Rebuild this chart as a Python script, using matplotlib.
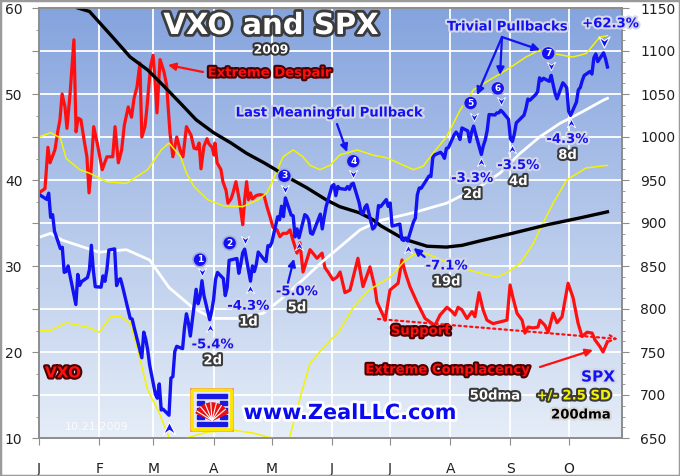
import matplotlib
matplotlib.use("Agg")
import matplotlib.pyplot as plt
import matplotlib.patheffects as pe
from matplotlib.path import Path
from matplotlib.patches import FancyBboxPatch, Rectangle, Wedge
from matplotlib.ticker import MultipleLocator, FuncFormatter, FixedLocator
from matplotlib.transforms import offset_copy
import numpy as np
import pandas as pd

W, H = 680, 476

# ---- data ----
HOLIDAYS = ["2009-01-19", "2009-02-16", "2009-04-10", "2009-05-25", "2009-07-03", "2009-09-07"]

# SPX daily closes, Jan 2 .. Oct 21 2009
spx = [
    931.8, 927.5, 934.7, 906.7, 909.7, 890.4, 870.3, 871.8, 842.6, 843.7,
    850.1, 805.2, 840.2, 827.5, 831.9, 836.6, 845.7, 874.1, 845.1, 825.9,
    825.4, 838.5, 832.2, 845.9, 868.6, 869.9, 827.2, 833.7, 835.2, 826.8,
    789.2, 788.4, 778.9, 770.1, 743.3, 773.1, 764.9, 752.8, 735.1,
    700.8, 696.3, 712.9, 682.6, 683.4, 676.5, 719.6, 721.4, 750.7, 756.6,
    753.9, 778.1, 794.4, 784.0, 768.5, 822.9, 806.1, 813.9, 832.9, 815.9,
    787.5, 797.9,
    811.1, 834.4, 842.5, 835.5, 815.6, 825.2, 856.6, 858.7, 841.5, 852.1,
    865.3, 869.6, 832.4, 850.1, 843.6, 851.9, 866.2, 857.5, 855.2, 873.6,
    872.8,
    877.5, 907.2, 903.8, 919.5, 907.4, 929.2, 909.2, 908.4, 883.9, 893.1,
    882.9, 909.7, 908.1, 903.5, 888.3, 887.0, 910.3, 893.1, 906.8, 919.1,
    942.9, 944.7, 931.8, 942.5, 940.1, 939.1, 942.4, 939.2, 944.9, 946.2,
    923.7, 912.0, 910.7, 918.4, 921.2, 893.0, 895.1, 900.9, 920.3, 918.9,
    927.2, 919.3,
    923.3, 896.4, 898.7, 881.0, 879.6, 882.7, 879.1, 901.1, 905.8, 932.7,
    940.7, 940.4, 951.1, 954.6, 954.1, 976.3, 979.3, 982.2, 979.6, 975.2,
    986.8, 987.5,
    1002.6, 1005.7, 1002.7, 997.1, 1010.5, 1007.1, 994.4, 1005.8, 1012.7, 1004.1,
    979.7, 989.7, 996.5, 1007.4, 1026.1, 1025.6, 1028.0, 1028.1, 1031.0, 1028.9,
    1020.6,
    998.0, 994.8, 1003.2, 1016.4, 1025.4, 1033.4, 1044.1, 1042.7, 1049.3, 1052.6,
    1068.8, 1065.5, 1068.3, 1064.7, 1071.7, 1060.9, 1050.8, 1044.4, 1063.0, 1060.6,
    1057.1,
    1029.9, 1025.2, 1040.5, 1054.7, 1057.6, 1065.5, 1071.5, 1076.2, 1073.2, 1092.0,
    1096.6, 1087.7, 1097.9, 1091.1, 1081.4,
]

# VXO, sampled by day of year (Jan 1 = 0)
vxo_day = [
    0, 3.1, 4.6, 5.7, 8.2, 9.8, 10.8, 11.9, 13.4, 14.4,
    16, 18, 19.1, 20.1, 21.6, 23.2, 24.7, 25.8, 26.8, 28.2,
    30, 32.6, 35, 38, 39.2, 40.9, 42.6, 44, 46, 47.7,
    49, 50.5, 52, 53, 54.6, 55.5, 57.5, 58.8, 59.8, 60.8,
    62.4, 64.4, 65.8, 67.5, 69, 71, 72.7, 74.2, 76, 78.4,
    79.9, 81.4, 82.5, 83.5, 85, 86.6, 87.6, 89.2, 90.2, 90.7,
    91.8, 93.8, 94.8, 96.4, 97.4, 99, 100, 101.5, 103, 104,
    105, 106, 107, 108, 109, 110, 112, 114, 116, 117.5,
    119.1, 120.6, 122.7, 124.2, 125.8, 127.8, 129.4, 130.9, 133, 134.5,
    136.1, 139.7, 143.3, 145.9, 147.4, 149, 151.5, 153.6, 155.2, 157.7,
    160.3, 164.4, 167, 170.6, 173.2, 174.2, 177.3, 178.4, 180.9, 185.1,
    187.1, 188.7, 191.2, 194.8, 199, 201.5, 204.1, 206.7, 210.3, 212.9,
    214.4, 216, 218, 220.6, 223.2, 224.7, 226.8, 228.9, 230.9, 234,
    237.6, 241.2, 242.8, 244.3, 246.4, 249, 250.5, 252.1, 254.6, 257.2,
    258.2, 260.8, 262.4, 265, 267, 269.6, 272.7, 275.3, 277.8, 279.9,
    282.5, 285.1, 286.6, 289.2, 290.7, 293,
]
vxo = [
    38.5, 39.0, 43.8, 42.0, 43.5, 45.8, 47.0, 50.0, 48.5, 46.0,
    50.0, 56.3, 45.6, 47.2, 47.0, 44.7, 42.7, 38.5, 41.0, 46.2,
    44.3, 41.2, 42.7, 42.7, 46.2, 42.0, 43.5, 46.4, 48.5, 47.3,
    49.5, 50.8, 53.6, 45.0, 46.2, 48.1, 53.2, 54.5, 51.6, 47.8,
    54.0, 52.6, 51.0, 45.5, 42.7, 45.0, 43.5, 42.7, 46.2, 45.2,
    43.7, 43.6, 44.3, 41.3, 43.9, 44.8, 44.2, 43.8, 42.9, 44.3,
    42.0, 41.2, 39.8, 38.8, 37.3, 37.8, 38.5, 39.8, 38.0, 36.5,
    34.8, 37.7, 39.8, 37.7, 38.5, 37.8, 38.2, 38.3, 38.2, 36.9,
    35.7, 34.5, 34.2, 33.4, 33.8, 33.8, 34.2, 33.0, 31.5, 32.7,
    29.3, 31.9, 30.9, 31.5, 29.8, 29.3, 28.4, 28.7, 29.3, 26.9,
    27.2, 30.9, 27.6, 29.9, 27.4, 25.8, 24.3, 23.7, 27.2, 28.0,
    30.7, 29.3, 27.6, 25.8, 23.9, 23.5, 23.1, 24.3, 25.2, 24.7,
    24.3, 25.2, 24.9, 23.9, 24.7, 24.1, 26.9, 24.9, 23.7, 23.3,
    23.5, 23.7, 27.8, 26.3, 24.5, 23.7, 22.2, 22.9, 22.8, 22.9,
    23.7, 23.1, 22.3, 24.5, 23.4, 24.1, 28.0, 26.3, 23.4, 21.8,
    22.3, 22.2, 21.4, 20.6, 20.0, 21.2,
]

# SPX 50-day moving average
ma50_day = [1, 6, 12, 31, 45, 57, 67, 79, 84.5, 90, 102, 115.5, 124, 136, 146,
            155, 165.5, 176, 193, 210, 227, 237.6, 248, 258, 268.6, 279, 291, 293]
ma50 = [884, 888, 880, 866, 869, 857, 825, 802, 795, 789, 789, 795, 810, 834, 855,
        872, 892, 903, 912, 923, 942, 958, 981, 1000, 1016, 1028, 1043, 1045]

# SPX 200-day moving average
ma200_day = [14, 20, 26, 38, 47, 56, 64, 73, 81, 90, 99, 107, 116, 122, 126, 138, 148,
             155, 165, 172, 176, 186, 190, 200, 210, 218, 227, 244, 262, 279, 293]
ma200 = [1158, 1150, 1146, 1116, 1093, 1078, 1060, 1039, 1020, 1005, 993, 981, 970,
         962, 956, 941, 927, 919, 912, 904, 897, 884, 880, 873, 872, 874, 879, 888,
         898, 906, 913]

# 50dma +/- 2.5 standard deviations
band_hi_day = [0, 6, 11, 14, 21, 26, 35, 45, 56, 63, 67, 73, 76, 80, 87, 95, 105, 113,
               117.5, 120.6, 125.8, 131, 136, 139.7, 144.8, 150, 155, 164, 172, 179,
               193, 198, 203, 210, 217, 224, 232, 241, 251, 258, 265, 275, 282, 289, 293]
band_hi = [1000, 1005, 999, 975, 962, 958, 948, 946, 962, 985, 993, 977, 958, 942, 927,
           920, 919, 927, 935, 950, 977, 985, 977, 967, 962, 967, 979, 985, 979, 976,
           962, 966, 981, 1000, 1031, 1055, 1066, 1078, 1093, 1101, 1097, 1093, 1097,
           1116, 1118]
band_lo_day = [0, 6, 14, 25, 31, 37, 42, 47, 50.5, 56, 62, 67.5, 70, 73, 76, 87, 100,
               110, 118, 124, 129, 134.5, 139.7, 148.5, 155, 162, 170, 181, 188, 193,
               199, 210, 222, 236, 241, 248, 255, 258, 265, 272, 282, 293]
band_lo = [775, 775, 784, 779, 773, 791, 791, 784, 756, 706, 679, 648, 640, 641, 650,
           657, 659, 656, 651, 649, 649, 696, 737, 760, 775, 802, 822, 837, 855, 863,
           865, 855, 845, 837, 842, 853, 877, 892, 923, 950, 964, 967]

month_starts = [0, 31, 59, 90, 120, 151, 181, 212, 243, 273]
month_labels = ["J", "F", "M", "A", "M", "J", "J", "A", "S", "O"]

# numbered pullbacks: peak date, trough date, size, length
pb_peak = ["2009-03-26", "2009-04-17", "2009-05-08", "2009-06-12",
           "2009-08-13", "2009-08-27", "2009-09-22"]
pb_trough = ["2009-03-30", "2009-04-20", "2009-05-15", "2009-07-10",
             "2009-08-17", "2009-09-02", "2009-10-02"]
pb_pct = ["-5.4%", "-4.3%", "-5.0%", "-7.1%", "-3.3%", "-3.5%", "-4.3%"]
pb_len = ["2d", "1d", "5d", "19d", "2d", "4d", "8d"]
low_date, high_date, gain_label = "2009-03-09", "2009-10-19", "+62.3%"

# ---- styling ----
BLUE = "#1212f2"
RED = "#ff1010"
YELLOW = "#f4f400"
GRAY = "#8c8c8c"

# label offsets in pixels (layout only)
LBL_DX = [3, -2, -2, 39, -9, 6, -3]
LBL_DY = [-25, -25, -54, -25, -24, -24, -24]
CIRC_DX = [-2, -15, -1, 0, -3, -3, -3]
CIRC_DY = [21, 6, 22, 22, 23, 22, 22]


def stroke(edge, lw=3):
    return [pe.withStroke(linewidth=lw, foreground=edge)]


days = pd.bdate_range("2009-01-02", "2009-10-21")
days = days[~days.isin(pd.to_datetime(HOLIDAYS))]
n = min(len(days), len(spx))
spx_x = (days.dayofyear.values - 1)[:n]
spx_v = np.array(spx[:n])
idx = {d: i for i, d in enumerate(days.strftime("%Y-%m-%d")[:n])}

fig = plt.figure(figsize=(W / 100, H / 100), dpi=100)
fig.patch.set_facecolor("white")
ax = fig.add_axes([39 / W, (H - 438) / H, 583 / W, 430 / H])
ax2 = ax.twinx()

# background gradient
grad = np.linspace(0, 1, 256)[:, None, None]
top = np.array([0.52, 0.64, 0.87])
bot = np.array([0.90, 0.93, 0.97])
ax.imshow(top + (bot - top) * grad, extent=(0, 300.5, 10, 60), aspect="auto",
          origin="upper", zorder=0)

ax.set_xlim(0, 300.5)
ax.set_ylim(10, 60)
ax2.set_ylim(650, 1150)
ax.set_axisbelow(True)

ax.xaxis.set_major_locator(FixedLocator(month_starts))
ax.set_xticklabels(month_labels)
ax.yaxis.set_major_locator(MultipleLocator(5))
ax.yaxis.set_minor_locator(MultipleLocator(2.5))
ax.yaxis.set_major_formatter(FuncFormatter(lambda v, _: f"{v:.0f}" if v % 10 == 0 else ""))
ax2.yaxis.set_major_locator(MultipleLocator(50))
ax2.yaxis.set_minor_locator(MultipleLocator(12.5))
ax.grid(True, which="major", color="white", lw=1.3)

for a in (ax, ax2):
    for s in a.spines.values():
        s.set_color(GRAY)
        s.set_linewidth(1.2)
    a.tick_params(which="both", color=GRAY, labelsize=10, labelcolor="#202020")
    a.tick_params(which="major", length=5)
    a.tick_params(which="minor", length=2.5)
ax.tick_params(axis="y", pad=7)
ax.tick_params(axis="x", pad=12)
ax2.tick_params(axis="y", pad=8)

# ---- series ----
ax.plot(vxo_day[:len(vxo)], vxo[:len(vxo_day)], color=RED, lw=2.3, zorder=3)
ax2.plot(band_lo_day, band_lo, color=YELLOW, lw=1.1)
ax2.plot(band_hi_day, band_hi, color=YELLOW, lw=1.1)
ax2.plot(ma50_day, ma50, color="white", lw=2.0)
ax2.plot(ma200_day, ma200, color="black", lw=2.4)
ax2.plot(spx_x, spx_v, color=BLUE, lw=2.4)

# ---- pullback markers ----
chev_down = Path([(-1, 1), (0, -1), (1, 1), (0, 0.3), (-1, 1)],
                 [Path.MOVETO, Path.LINETO, Path.LINETO, Path.LINETO, Path.CLOSEPOLY])
chev_up = Path([(-1, -1), (0, 1), (1, -1), (0, -0.3), (-1, -1)],
               [Path.MOVETO, Path.LINETO, Path.LINETO, Path.LINETO, Path.CLOSEPOLY])

pk = [idx[d] for d in pb_peak]
tr = [idx[d] for d in pb_trough]
ax2.plot(spx_x[pk], spx_v[pk], ls="none", marker=chev_down, ms=6, mfc=BLUE,
         mec="white", mew=0.6, transform=offset_copy(ax2.transData, fig, y=9, units="dots"))
ax2.plot(spx_x[tr], spx_v[tr], ls="none", marker=chev_up, ms=6, mfc=BLUE,
         mec="white", mew=0.6, transform=offset_copy(ax2.transData, fig, y=-8, units="dots"))
lo, hi = idx[low_date], idx[high_date]
ax2.plot(spx_x[lo], spx_v[lo], ls="none", marker=chev_up, ms=9, mfc=BLUE,
         mec="white", mew=0.8, transform=offset_copy(ax2.transData, fig, y=-13, units="dots"))
ax2.plot(spx_x[hi], spx_v[hi], ls="none", marker=chev_down, ms=8, mfc=BLUE,
         mec="white", mew=0.8, transform=offset_copy(ax2.transData, fig, y=11, units="dots"))


def disp(i):
    return ax2.transData.transform((spx_x[i], spx_v[i]))


def ftext(x, y, s, **kw):
    ax2.annotate(s, (x, y), xycoords="figure pixels", ha="center", va="center",
                 annotation_clip=False, **kw)


def farrow(x0, y0, x1, y1, color, ls="-"):
    ax2.annotate("", xy=(x1, y1), xytext=(x0, y0), xycoords="figure pixels",
                 annotation_clip=False,
                 arrowprops=dict(arrowstyle="-|>", color=color, lw=1.6, ls=ls,
                                 mutation_scale=11, shrinkA=0, shrinkB=0))


for k in range(len(pk)):
    px, py = disp(pk[k])
    ftext(px + CIRC_DX[k], py + CIRC_DY[k], str(k + 1), fontsize=6.5, color="white",
          fontweight="bold",
          bbox=dict(boxstyle="circle,pad=0.28", fc=BLUE, ec="#a9b0d8", lw=1.2))
    tx, ty = disp(tr[k])
    lx, ly = tx + LBL_DX[k], ty + LBL_DY[k]
    ftext(lx, ly, pb_pct[k], fontsize=9.5, fontweight="bold", color=BLUE,
          path_effects=stroke("#d4d7e6"))
    ftext(lx, ly - 16, pb_len[k], fontsize=9.5, fontweight="bold", color="white",
          path_effects=stroke("#3a3a3a"))
    if k == 2:
        farrow(tx - 11, ty - 45, tx - 5, ty - 21, BLUE)
    if k == 3:
        farrow(tx + 17, ty - 16, tx + 6, ty - 7, BLUE)

hx, hy = disp(hi)
ftext(hx + 7, hy + 29, gain_label, fontsize=9.5, fontweight="bold", color=BLUE,
      path_effects=stroke("#d4d7e6"))


def fp(x, y):
    return x, H - y


# ---- titles and callouts ----
ftext(*fp(271, 26), "VXO and SPX", fontsize=21, fontweight="bold", color="white",
      path_effects=stroke("#3c3c3c", 4))
ftext(*fp(271, 50), "2009", fontsize=9, fontweight="bold", color="white",
      path_effects=stroke("#333333"))
ftext(*fp(270, 73), "Extreme Despair", fontsize=9.5, fontweight="bold", color=RED,
      path_effects=stroke("#4a0000"))
farrow(*fp(203, 72), *fp(168, 65), RED)
ftext(*fp(330, 113), "Last Meaningful Pullback", fontsize=9.5, fontweight="bold",
      color=BLUE, path_effects=stroke("#d4d7e6"))
farrow(*fp(337, 124), *fp(347, 152), BLUE)
ftext(*fp(508, 27), "Trivial Pullbacks", fontsize=9.5, fontweight="bold", color=BLUE,
      path_effects=stroke("#d4d7e6"))
for ex, ey in [(477, 95), (500, 75), (540, 50)]:
    farrow(*fp(502, 37), *fp(ex, ey), BLUE)

ftext(*fp(421, 331), "Support", fontsize=9.5, fontweight="bold", color=RED,
      path_effects=stroke("#4a0000"))
ax2.annotate("", xy=fp(618, 339), xytext=fp(378, 319), xycoords="figure pixels",
             annotation_clip=False,
             arrowprops=dict(arrowstyle="->", color=RED, lw=1.6, ls=(0, (1, 1.6)),
                             mutation_scale=11, shrinkA=0, shrinkB=0))
ftext(*fp(448, 370), "Extreme Complacency", fontsize=9.5, fontweight="bold", color=RED,
      path_effects=stroke("#4a0000"))
farrow(*fp(540, 367), *fp(593, 350), RED)

ftext(*fp(63, 373), "VXO", fontsize=11, fontweight="bold", color=RED,
      path_effects=stroke("#4a0000"))
ftext(*fp(598, 377), "SPX", fontsize=11, fontweight="bold", color=BLUE,
      path_effects=stroke("#d4d7e6"))
ftext(*fp(495, 396), "50dma", fontsize=9.5, fontweight="bold", color="white",
      path_effects=stroke("#3a3a3a"))
ftext(*fp(574, 396), "+/- 2.5 SD", fontsize=9.5, fontweight="bold", color=YELLOW,
      path_effects=stroke("#3a3a3a"))
ftext(*fp(581, 415), "200dma", fontsize=9.5, fontweight="bold", color="black",
      path_effects=stroke("#d8d8d8"))
ftext(*fp(350, 413), "www.ZealLLC.com", fontsize=15, fontweight="bold", color="#0a0af0",
      path_effects=stroke("white", 4))
ftext(*fp(97, 427), "10.21.2009", fontsize=8, color="white", alpha=0.85)

# ---- logo ----
lg = fig.add_axes([190 / W, (H - 432) / H, 44 / W, 44 / H])
lg.set_xlim(0, 1)
lg.set_ylim(0, 1)
lg.axis("off")
lg.add_patch(FancyBboxPatch((0.08, 0.08), 0.84, 0.84, boxstyle="round,pad=0.03",
                            fc="none", ec="#f08a8a", lw=4.5))
lg.add_patch(FancyBboxPatch((0.08, 0.08), 0.84, 0.84, boxstyle="round,pad=0.03",
                            fc="#e2e7ff", ec="#ffe600", lw=2.5))
for yb in (0.30, 0.46, 0.62):
    lg.add_patch(Rectangle((0.15, yb), 0.17, 0.08, color="#1a1ae0"))
    lg.add_patch(Rectangle((0.68, yb), 0.17, 0.08, color="#1a1ae0"))
lg.add_patch(Rectangle((0.15, 0.78), 0.70, 0.08, color="#1a1ae0"))
lg.add_patch(Rectangle((0.15, 0.14), 0.70, 0.08, color="#1a1ae0"))
lg.add_patch(Wedge((0.5, 0.26), 0.40, 25, 155, color="#e81010"))
for a0 in range(40, 150, 18):
    t = np.deg2rad(a0)
    lg.plot([0.5, 0.5 + 0.40 * np.cos(t)], [0.26, 0.26 + 0.40 * np.sin(t)],
            color="white", lw=0.8)

fig.add_artist(Rectangle((0, 0), 1, 1, transform=fig.transFigure, fill=False,
                         ec="#9a9a9a", lw=2.5))

fig.savefig("out.png", dpi=100, facecolor="white")
